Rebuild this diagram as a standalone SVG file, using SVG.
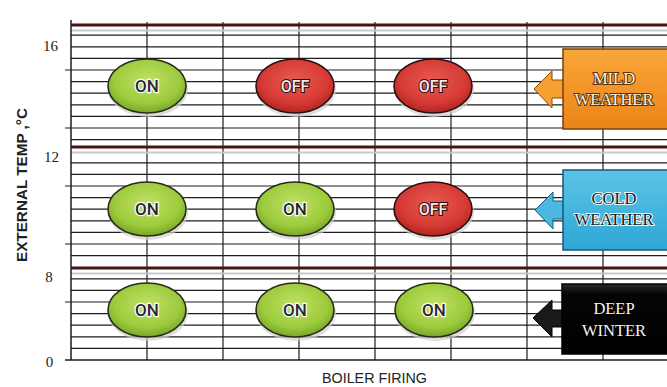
<svg xmlns="http://www.w3.org/2000/svg" width="667" height="387" viewBox="0 0 667 387">
<defs>
<style>
.grid{stroke:#1e1e1e;stroke-width:1.2;fill:none}
.thick{stroke:#4a1414;stroke-width:3.2;fill:none}
.shadow{stroke:#c9c9c9;stroke-width:2;fill:none}
.tick{font-family:"Liberation Serif",serif;font-size:15px;fill:#222;text-anchor:middle}
.on{fill:url(#gGreen);stroke:#2a2a1a;stroke-width:1.6}
.off{fill:url(#gRed);stroke:#2a1010;stroke-width:1.6}
.onT{font-family:Roboto,"DejaVu Sans",sans-serif;font-weight:500;font-size:17px;fill:#2a2a2a;stroke:#ffffff;stroke-width:2.5;paint-order:stroke;text-anchor:middle}
.offT{font-family:Roboto,"DejaVu Sans",sans-serif;font-weight:500;font-size:16px;fill:#f3e8e8;stroke:#2a0c0c;stroke-width:2;paint-order:stroke;text-anchor:middle}
.boxT{font-family:"Liberation Serif",serif;font-size:16.5px;text-anchor:middle;paint-order:stroke}
.sh{fill:#cfcfcf;opacity:0.7}
</style>
<radialGradient id="gGreen" cx="50%" cy="40%" r="60%">
<stop offset="0" stop-color="#c2e066"/>
<stop offset="0.7" stop-color="#9ccb3c"/>
<stop offset="1" stop-color="#78a628"/>
</radialGradient>
<radialGradient id="gRed" cx="50%" cy="40%" r="60%">
<stop offset="0" stop-color="#e85a52"/>
<stop offset="0.7" stop-color="#d63a34"/>
<stop offset="1" stop-color="#b02420"/>
</radialGradient>
<linearGradient id="gOrange" x1="0" y1="0" x2="0" y2="1">
<stop offset="0" stop-color="#f9a63a"/>
<stop offset="1" stop-color="#ec8418"/>
</linearGradient>
<linearGradient id="gBlue" x1="0" y1="0" x2="0" y2="1">
<stop offset="0" stop-color="#5cc4e6"/>
<stop offset="1" stop-color="#2ea6d4"/>
</linearGradient>
<linearGradient id="gBlack" x1="0" y1="0" x2="0" y2="1">
<stop offset="0" stop-color="#2a2a2a"/>
<stop offset="0.15" stop-color="#050505"/>
<stop offset="1" stop-color="#000"/>
</linearGradient>
</defs>
<rect width="667" height="387" fill="#ffffff"/>

<g id="grid">
<g class="grid">
<path d="M71 348.4H667M71 336.8H667M71 325.2H667M71 313.6H667M71 302H667M71 290.4H667M71 278.8H667M71 255.6H667M71 244H667M71 232.4H667M71 220.8H667M71 209.2H667M71 197.6H667M71 186H667M71 174.4H667M71 162.8H667M71 139.6H667M71 128H667M71 116.4H667M71 104.8H667M71 93.2H667M71 81.6H667M71 70H667M71 58.4H667M71 46.8H667M71 35.2H667"/>
<path d="M147 22V360M223 22V360M299 22V360M375 22V360M451 22V360M527 22V360M603 22V360"/>
<path d="M65 70H71M65 128H71M65 186H71M65 244H71M65 302H71"/>
</g>
<path class="shadow" d="M71 30.5H667M71 152.5H667M71 273.5H667"/>
<path class="thick" d="M71 25H667M71 147H667M71 268H667"/>
<path d="M71 20V360M65 360H667" stroke="#1e1e1e" stroke-width="1.5" fill="none"/>
</g>

<g id="axis-labels">
<text class="tick" x="50.5" y="51">16</text>
<text class="tick" x="51.5" y="162">12</text>
<text class="tick" x="49" y="282">8</text>
<text class="tick" x="49.5" y="367">0</text>
<text x="27" y="185" transform="rotate(-90 27 185)" font-family="Liberation Sans,Arial,sans-serif" font-weight="bold" font-size="14" fill="#222" text-anchor="middle" textLength="154" lengthAdjust="spacingAndGlyphs">EXTERNAL TEMP ,°C</text>
<text x="374.5" y="383" font-family="Liberation Sans,Arial,sans-serif" font-size="15" fill="#222" text-anchor="middle" textLength="105" lengthAdjust="spacingAndGlyphs">BOILER FIRING</text>
</g>

<g id="r1c1"><ellipse class="sh" cx="148" cy="89" rx="40" ry="28"/><ellipse class="on" cx="147" cy="86" rx="39" ry="27"/><text class="onT" x="147" y="92">ON</text></g>
<g id="r1c2"><ellipse class="sh" cx="296" cy="89" rx="40" ry="28"/><ellipse class="off" cx="295" cy="86" rx="39" ry="27"/><text class="offT" x="295" y="92">OFF</text></g>
<g id="r1c3"><ellipse class="sh" cx="434" cy="89" rx="40" ry="28"/><ellipse class="off" cx="433" cy="86" rx="39" ry="27"/><text class="offT" x="433" y="92">OFF</text></g>

<g id="r2c1"><ellipse class="sh" cx="148" cy="212" rx="40" ry="28"/><ellipse class="on" cx="147" cy="209" rx="39" ry="27"/><text class="onT" x="147" y="215">ON</text></g>
<g id="r2c2"><ellipse class="sh" cx="296" cy="212" rx="40" ry="28"/><ellipse class="on" cx="295" cy="209" rx="39" ry="27"/><text class="onT" x="295" y="215">ON</text></g>
<g id="r2c3"><ellipse class="sh" cx="434" cy="212" rx="40" ry="28"/><ellipse class="off" cx="433" cy="209" rx="39" ry="27"/><text class="offT" x="433" y="215">OFF</text></g>

<g id="r3c1"><ellipse class="sh" cx="148" cy="313" rx="40" ry="28"/><ellipse class="on" cx="147" cy="310" rx="39" ry="27"/><text class="onT" x="147" y="316">ON</text></g>
<g id="r3c2"><ellipse class="sh" cx="296" cy="313" rx="40" ry="28"/><ellipse class="on" cx="295" cy="310" rx="39" ry="27"/><text class="onT" x="295" y="316">ON</text></g>
<g id="r3c3"><ellipse class="sh" cx="435" cy="313" rx="40" ry="28"/><ellipse class="on" cx="434" cy="310" rx="39" ry="27"/><text class="onT" x="434" y="316">ON</text></g>

<g id="mild">
<polygon points="534,89 552,71 552,80 564,80 564,98 552,98 552,108" fill="#f5a030" stroke="#8a4a0a" stroke-width="1"/>
<rect x="563" y="49" width="106" height="80" fill="url(#gOrange)" stroke="#7a3e08" stroke-width="1.5"/>
<text class="boxT" x="614" y="84" fill="#fff4d6" stroke="#5a3008" stroke-width="2">MILD</text>
<text class="boxT" x="614" y="105" fill="#fff4d6" stroke="#5a3008" stroke-width="2">WEATHER</text>
</g>

<g id="cold">
<polygon points="535,210 553,192 553,201 564,201 564,219 553,219 553,229" fill="#4cb8e0" stroke="#1a5a7a" stroke-width="1"/>
<rect x="563" y="170" width="106" height="80" fill="url(#gBlue)" stroke="#155a78" stroke-width="1.5"/>
<text class="boxT" x="614" y="204" fill="#10202c" stroke="#e8f8ff" stroke-width="2">COLD</text>
<text class="boxT" x="614" y="225" fill="#10202c" stroke="#e8f8ff" stroke-width="2">WEATHER</text>
</g>

<g id="deep">
<polygon points="533,318 552,300 552,310 564,310 564,327 552,327 552,337" fill="#1a1a1a" stroke="#000" stroke-width="1"/>
<rect x="562" y="284" width="107" height="70" fill="url(#gBlack)" stroke="#000" stroke-width="1.5"/>
<text class="boxT" x="614" y="314" fill="#f4f4f4" stroke="#000" stroke-width="1.5">DEEP</text>
<text class="boxT" x="614" y="336" fill="#f4f4f4" stroke="#000" stroke-width="1.5">WINTER</text>
</g>
</svg>
